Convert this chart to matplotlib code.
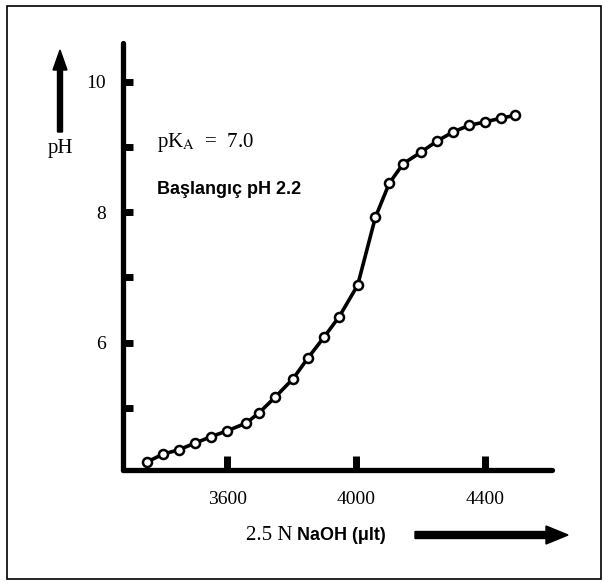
import matplotlib
matplotlib.use("Agg")
import matplotlib.pyplot as plt
from matplotlib.patches import Rectangle, FancyArrow

# titration data
naoh_ul = [3350, 3400, 3450, 3500, 3550, 3600, 3660, 3700, 3750, 3805, 3850, 3900,
           3948, 4005, 4060, 4103, 4146, 4202, 4252, 4302, 4352, 4400, 4450, 4492]
ph = [4.17, 4.29, 4.36, 4.46, 4.56, 4.65, 4.77, 4.93, 5.17, 5.45, 5.76, 6.08,
      6.40, 6.88, 7.92, 8.44, 8.74, 8.92, 9.09, 9.23, 9.33, 9.38, 9.44, 9.48]

y_ticks = [5, 6, 7, 8, 9, 10]
y_labels = ["", "6", "", "8", "", "10"]
x_ticks = [3600, 4000, 4400]
x_labels = ["3600", "4000", "4400"]

plt.rcParams["mathtext.fontset"] = "stix"
serif = "Liberation Serif"
sans = "Liberation Sans"

fig = plt.figure(figsize=(6.03, 5.83), dpi=100)
ax = fig.add_axes([123/603, 1 - 470/583, (552-123)/603, (470-43)/583])

ax.plot(naoh_ul, ph, color="black", lw=2.6, marker="o", ms=6.5,
        mfc="white", mec="black", mew=1.8, zorder=3)

ax.set_xlim(3277, 4608)
ax.set_ylim(4.05, 10.59)

for s in ["top", "right"]:
    ax.spines[s].set_visible(False)
for s in ["left", "bottom"]:
    ax.spines[s].set_linewidth(3.8)
    ax.spines[s].set_capstyle("round")

ax.set_yticks(y_ticks)
ax.set_yticklabels(y_labels, fontfamily=serif, fontsize=14)
ax.set_xticks(x_ticks)
ax.set_xticklabels(x_labels, fontfamily=serif, fontsize=14)
ax.tick_params(axis="y", direction="in", length=7, width=5, pad=12)
ax.tick_params(axis="x", direction="in", length=10, width=5, pad=15)

ax.text(157/603, 1 - 143/583, r"pK$_{\mathrm{A}}$  =  7.0", transform=fig.transFigure,
        fontfamily=serif, fontsize=15, va="center", ha="left")
ax.text(157/603, 1 - 190/583, "Başlangıç pH 2.2", transform=fig.transFigure,
        fontfamily=sans, fontweight="bold", fontsize=13, va="center", ha="left")

# pH label with upward arrow
fig.text(60/603, 1 - 149/583, "pH", fontfamily=serif, fontsize=15, ha="center", va="center")
fig.patches.append(FancyArrow(60/603, 1 - 132/583, 0, (132-50)/583, width=5/603,
                              head_width=14/603, head_length=20/583, length_includes_head=True,
                              color="black", transform=fig.transFigure))

# x axis label with arrow
fig.text(292/603, 1 - 535/583, "2.5 N", fontfamily=serif, fontsize=15, ha="right", va="center")
fig.text(297/603, 1 - 535/583, "NaOH (μlt)", fontfamily=sans, fontweight="bold",
         fontsize=13, ha="left", va="center")
fig.patches.append(FancyArrow(415/603, 1 - 535/583, (568-415)/603, 0, width=7/583,
                              head_width=18/583, head_length=22/603, length_includes_head=True,
                              color="black", transform=fig.transFigure))

fig.patches.append(Rectangle((7/603, 1 - 579/583), (601-7)/603, (579-6)/583, fill=False,
                             lw=1.2, ec="black", transform=fig.transFigure))

fig.savefig("out.png", dpi=100)
